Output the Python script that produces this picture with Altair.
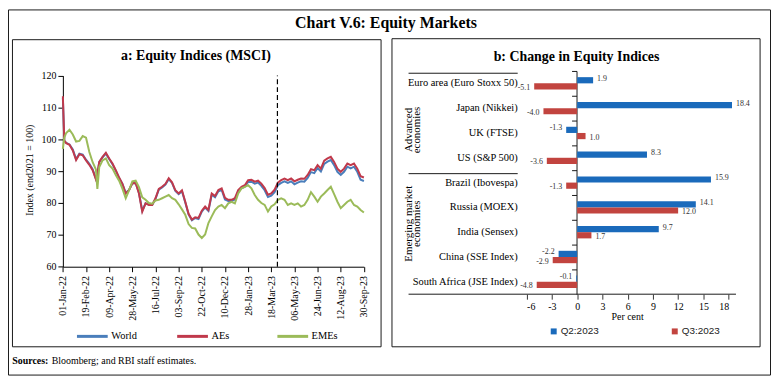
import altair as alt
import pandas as pd

SERIF = "Liberation Serif"
SANS = "Liberation Sans"

# ---------------- Panel a: Equity Indices (MSCI) ----------------
start_date = "2022-01-01"
day_offsets = [0, 3, 7, 14, 21, 28, 35, 42, 49, 56, 63, 70, 73, 77, 84, 91, 98, 105, 112, 119,
               126, 133, 140, 147, 154, 161, 168, 175, 182, 189, 196, 203, 210, 217, 224, 231,
               238, 245, 252, 259, 266, 273, 280, 287, 294, 301, 308, 315, 322, 329, 336, 343,
               350, 357, 364, 371, 378, 385, 392, 399, 406, 413, 420, 427, 434, 441, 448, 455,
               462, 469, 476, 483, 490, 497, 504, 511, 518, 525, 532, 539, 546, 553, 560, 567,
               574, 581, 588, 595, 602, 609, 616, 623, 630, 637]
aes = [113.5, 99.6, 98.8, 98.3, 96.5, 93.5, 95.3, 95.0, 93.4, 92.0, 90.3, 87.4, 89.0, 92.9, 94.5,
       95.8, 94.0, 92.4, 90.3, 88.0, 86.0, 83.0, 84.0, 86.2, 86.3, 83.0, 77.3, 79.9, 79.4, 79.4,
       81.5, 84.4, 85.1, 86.0, 87.8, 86.5, 84.0, 83.0, 84.0, 80.4, 76.6, 74.8, 75.5, 75.3, 77.6,
       78.9, 77.8, 83.0, 82.2, 84.1, 84.6, 81.6, 81.0, 81.0, 81.5, 84.1, 85.1, 85.6, 87.2, 87.3,
       86.7, 87.0, 86.1, 84.7, 82.6, 83.0, 84.2, 86.4, 87.2, 87.7, 87.2, 87.7, 86.8, 87.3, 87.7,
       87.6, 88.8, 90.6, 90.3, 91.9, 90.8, 93.3, 94.0, 94.5, 92.9, 90.8, 89.8, 90.8, 92.4, 91.9,
       92.4, 90.8, 88.4, 88.0]
world = [113.0, 99.6, 98.9, 98.4, 96.8, 93.8, 95.5, 95.2, 93.6, 92.3, 90.6, 87.6, 89.2, 92.8, 94.3,
         95.5, 93.8, 92.2, 90.1, 87.9, 86.0, 83.2, 84.1, 86.2, 86.3, 83.2, 77.6, 79.9, 79.5, 79.4,
         81.3, 84.2, 84.9, 85.8, 87.5, 86.3, 83.8, 82.8, 83.7, 80.2, 76.4, 74.6, 75.3, 75.0, 77.3,
         78.6, 77.5, 82.6, 81.8, 83.7, 84.1, 81.1, 80.6, 80.6, 81.1, 83.6, 84.6, 85.1, 86.6, 86.7,
         86.1, 86.4, 85.4, 84.0, 81.9, 82.3, 83.4, 85.6, 86.3, 86.8, 86.3, 86.8, 85.9, 86.4, 86.8,
         86.7, 87.9, 89.7, 89.4, 91.0, 89.9, 92.3, 93.0, 93.5, 91.9, 89.8, 88.8, 89.8, 91.4, 90.9,
         91.4, 89.8, 87.3, 86.9]
emes = [97.0, 100.5, 102.0, 103.0, 101.5, 99.3, 99.5, 101.0, 100.5, 96.0, 92.8, 90.5, 84.4, 91.3,
        93.4, 94.0, 91.9, 90.8, 88.8, 87.0, 84.5, 81.5, 84.0, 86.8, 87.0, 85.0, 81.8, 81.0, 80.0,
        79.8, 80.8, 81.0, 81.5, 82.0, 82.5, 81.5, 81.0, 79.6, 78.0, 76.3, 73.4, 72.2, 72.0, 70.1,
        69.0, 70.1, 73.7, 75.8, 77.8, 78.9, 79.4, 78.4, 79.9, 80.4, 79.9, 83.0, 84.6, 85.1, 85.6,
        84.6, 82.5, 81.0, 80.0, 79.4, 77.3, 78.9, 79.6, 81.0, 81.5, 81.0, 79.4, 79.9, 79.4, 79.9,
        78.9, 79.4, 81.0, 83.4, 82.0, 80.4, 82.0, 83.0, 84.1, 85.1, 82.8, 80.4, 78.4, 79.4, 80.4,
        81.0, 79.4, 78.9, 77.8, 77.0]
series_names = ["World", "AEs", "EMEs"]
series_colors = ["#4a7ebb", "#c0394b", "#9bbb59"]
date_ticks = ["2022-01-01", "2022-02-19", "2022-04-09", "2022-05-28", "2022-07-16",
              "2022-09-03", "2022-10-22", "2022-12-10", "2023-01-28", "2023-03-18",
              "2023-05-06", "2023-06-24", "2023-08-12", "2023-09-30"]
marker_date = "2023-03-31"
y_ticks_a = [60, 70, 80, 90, 100, 110, 120]

# ---------------- Panel b: Change in Equity Indices ----------------
markets = ["Euro area (Euro Stoxx 50)", "Japan (Nikkei)", "UK (FTSE)", "US (S&P 500)",
           "Brazil (Ibovespa)", "Russia (MOEX)", "India (Sensex)", "China (SSE Index)",
           "South Africa (JSE Index)"]
q2 = [1.9, 18.4, -1.3, 8.3, 15.9, 14.1, 9.7, -2.2, -0.1]
q3 = [-5.1, -4.0, 1.0, -3.6, -1.3, 12.0, 1.7, -2.9, -4.8]
quarters = ["Q2:2023", "Q3:2023"]
bar_colors = ["#1a6abb", "#c2443f"]
x_ticks_b = [-6, -3, 0, 3, 6, 9, 12, 15, 18]

# ---------------- tables ----------------
t0 = pd.Timestamp(start_date)
rows = []
for i, d in enumerate(day_offsets):
    ds = (t0 + pd.Timedelta(days=d)).strftime("%Y-%m-%d")
    for name, vals in zip(series_names, [world, aes, emes]):
        rows.append({"date": ds, "series": name, "value": vals[i]})
df_a = pd.DataFrame(rows)

rows_b = []
for m, a, b in zip(markets, q2, q3):
    rows_b.append({"market": m, "quarter": quarters[0], "value": a, "label": f"{a:.1f}"})
    rows_b.append({"market": m, "quarter": quarters[1], "value": b, "label": f"{b:.1f}"})
df_b = pd.DataFrame(rows_b)


def ms(s):
    return int(pd.Timestamp(s).value // 10**6)


W, H = 769, 369
one = pd.DataFrame({"k": [0]})


def txt(s, x, y, size, bold=False, angle=0, align="center", font=SERIF, color="black"):
    return alt.Chart(one).mark_text(
        text=s, font=font, fontSize=size, fontWeight="bold" if bold else "normal",
        angle=angle, align=align, baseline="middle", color=color
    ).encode(x=alt.value(x), y=alt.value(y))


def box(x0, y0, x1, y1, w=1.0):
    return alt.Chart(one).mark_rect(fill="transparent", stroke="#1a1a1a", strokeWidth=w).encode(
        x=alt.value(x0), x2=alt.value(x1), y=alt.value(y0), y2=alt.value(y1))


def hline(x0, x1, y):
    return alt.Chart(one).mark_rule(color="#1a1a1a", strokeWidth=1).encode(
        x=alt.value(x0), x2=alt.value(x1), y=alt.value(y))


# ---------------- panel a layers ----------------
ax_xa = alt.Axis(orient="bottom", offset=-109.7, values=[ms(s) for s in date_ticks],
                 labelExpr="utcFormat(datum.value, '%d-%b-%y')", labelAngle=270,
                 labelAlign="right", labelBaseline="middle", labelPadding=4, tickSize=5,
                 grid=False, title=None, labelFont=SERIF, labelFontSize=10,
                 labelColor="black", labelOverlap=False, domainColor="black",
                 tickColor="black")
ax_ya = alt.Axis(orient="left", offset=-55.3, values=y_ticks_a, tickSize=5, labelPadding=2,
                 grid=False, title=None, labelFont=SERIF, labelFontSize=10, labelColor="black",
                 domainColor="black", tickColor="black")
xsc_a = alt.Scale(type="utc", domain=[ms(date_ticks[0]), ms(date_ticks[-1])],
                  range=[55.3, 358.7], nice=False)
ysc_a = alt.Scale(domain=[60, 120], range=[259.3, 66.7], nice=False, zero=False)
x_a = alt.X("date:T", scale=xsc_a, axis=ax_xa)
y_a = alt.Y("value:Q", scale=ysc_a, axis=ax_ya)
color_a = alt.Color("series:N", scale=alt.Scale(domain=series_names, range=series_colors),
                    legend=alt.Legend(orient="none", legendX=68, legendY=312.5,
                                      direction="horizontal", columns=3, gridAlign="all",
                                      columnPadding=33, symbolType="stroke", symbolSize=961,
                                      symbolStrokeWidth=3, labelFont=SERIF, labelFontSize=10.5,
                                      labelOffset=2, title=None, labelColor="black"))

line_layers = []
for name in series_names:
    line_layers.append(
        alt.Chart(df_a).transform_filter(alt.datum.series == name)
        .mark_line(strokeWidth=2)
        .encode(x=x_a, y=y_a, color=color_a)
    )
rule_df = pd.DataFrame({"date": [marker_date], "value": [60], "value2": [120]})
rule = alt.Chart(rule_df).mark_rule(color="black", strokeDash=[5, 3], strokeWidth=1.2).encode(
    x=x_a, y=y_a, y2="value2:Q")
panel_a = alt.layer(*line_layers, rule)

# ---------------- panel b layers ----------------
xsc_b = alt.Scale(domain=[-6, 18], range=[522.7, 726.3], nice=False, zero=False)
ysc_b = alt.Scale(domain=markets, range=[62, 287], paddingInner=0, paddingOuter=0)
ax_xb = alt.Axis(orient="bottom", offset=-82, values=x_ticks_b, labelExpr="'' + datum.value",
                 tickSize=5, labelPadding=2, domain=False, grid=False, title=None,
                 labelFont=SERIF, labelFontSize=10, labelColor="black", tickColor="#333")
ax_yb = alt.Axis(orient="left", offset=-573, labels=False, bandPosition=0, tickSize=5,
                 grid=False, title=None, domainColor="#1a1a1a", tickColor="#1a1a1a")
x_b = alt.X("value:Q", scale=xsc_b, axis=ax_xb)
y_b = alt.Y("market:N", scale=ysc_b, axis=ax_yb, sort=markets)
yoff_b = alt.YOffset("quarter:N", scale=alt.Scale(domain=quarters, paddingOuter=1.0,
                                                   paddingInner=0))
color_b = alt.Color("quarter:N", scale=alt.Scale(domain=quarters, range=bar_colors),
                    legend=alt.Legend(orient="none", legendX=545, legendY=319.5,
                                      direction="horizontal", columns=2, columnPadding=71,
                                      symbolType="square", symbolSize=36, labelFont=SANS,
                                      labelFontSize=10, labelOffset=2, title=None,
                                      labelColor="#222"))

bars = alt.Chart(df_b).mark_bar().encode(x=x_b, x2=alt.datum(0), y=y_b, yOffset=yoff_b,
                                         color=color_b)


def value_labels(cond, quarter, align, dx, dy):
    return alt.Chart(df_b).transform_filter(cond).transform_filter(
        alt.datum.quarter == quarter
    ).mark_text(
        align=align, baseline="middle", dx=dx, dy=dy, font=SERIF, fontSize=8, color="#333"
    ).encode(x=x_b, y=y_b, yOffset=yoff_b, text="label:N")


lab_layers = [
    value_labels(alt.datum.value >= 0, quarters[0], "left", 4, -1.5),
    value_labels(alt.datum.value < 0, quarters[0], "right", -4, -1.5),
    value_labels(alt.datum.value >= 0, quarters[1], "left", 4, 1.5),
    value_labels(alt.datum.value < 0, quarters[1], "right", -4, 1.5),
]
cat_lab = alt.Chart(pd.DataFrame({"market": markets})).mark_text(
    align="right", baseline="middle", font=SERIF, fontSize=10.5, color="black"
).encode(x=alt.value(513.7), y=y_b, text="market:N")
panel_b = alt.layer(bars, *lab_layers, cat_lab)

# ---------------- decorations ----------------
decor = [
    box(0.5, 0.5, W - 0.5, H - 0.5),
    box(4.5, 30.5, 376, 340),
    box(387, 29.5, 758, 340),
    txt("Chart V.6: Equity Markets", 381, 14, 16, bold=True),
    txt("a: Equity Indices (MSCI)", 189.5, 47, 14, bold=True),
    txt("b: Change in Equity Indices", 573, 47.5, 14, bold=True),
    txt("Index (end2021 = 100)", 22.7, 162, 10, angle=270),
    txt("Per cent", 624.5, 309.5, 10),
    txt("Advanced", 404.5, 121.5, 11, angle=270),
    txt("economies", 412, 121.5, 11, angle=270),
    txt("Emerging market", 404, 216, 11, angle=270),
    txt("economies", 412, 216, 11, angle=270),
    hline(403.7, 513.7, 64.3),
    hline(403.7, 513.7, 165.5),
    hline(403.7, 733.7, 287),
    txt("Sources:", 4.3, 354, 10, bold=True, align="left"),
    txt("Bloomberg; and RBI staff estimates.", 44, 354, 10, align="left"),
]

chart = alt.layer(*decor, panel_a, panel_b).resolve_scale(
    x="independent", y="independent", color="independent", yOffset="independent"
).properties(
    width=W, height=H, autosize=alt.AutoSizeParams(type="none"), padding=0,
    background="white"
).configure_view(stroke=None)

chart.save("out.html", embed_options={"renderer": "svg", "actions": False})
